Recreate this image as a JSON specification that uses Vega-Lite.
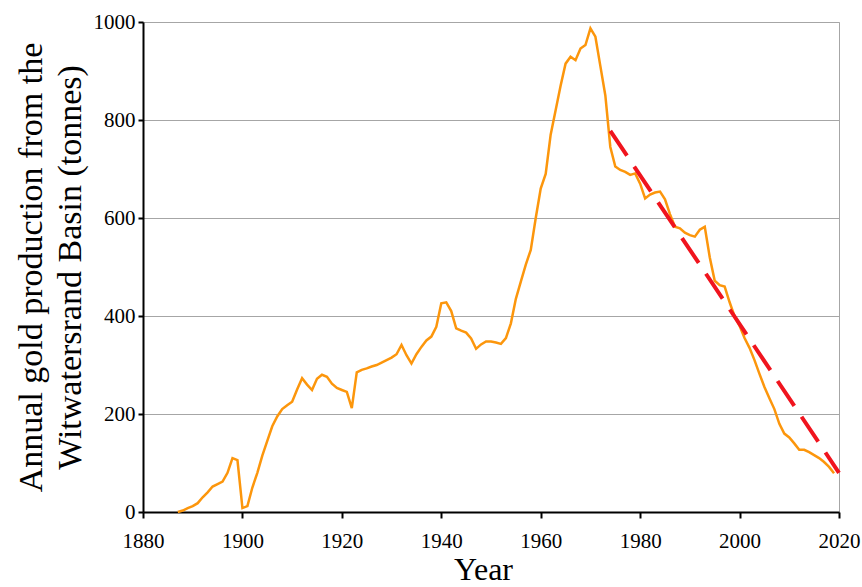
{
  "$schema": "https://vega.github.io/schema/vega-lite/v6.json",
  "width": 696,
  "height": 490,
  "autosize": {"type": "none"},
  "padding": {"left": 143, "top": 22, "right": 23, "bottom": 75},
  "background": "white",
  "config": {
    "view": {"stroke": "#a6a6a6", "strokeWidth": 1},
    "font": "Liberation Serif",
    "axis": {
      "labelFont": "Liberation Serif", "labelFontSize": 21, "labelColor": "black",
      "titleFont": "Liberation Serif", "titleFontWeight": "normal", "titleColor": "black",
      "tickColor": "black", "tickWidth": 2, "domainColor": "black", "domainWidth": 2
    }
  },
  "datasets": {
    "production": [
      {"year": 1887, "value": 0}, {"year": 1888, "value": 3}, {"year": 1889, "value": 8}, {"year": 1890, "value": 12},
      {"year": 1891, "value": 18}, {"year": 1892, "value": 30}, {"year": 1893, "value": 40}, {"year": 1894, "value": 52},
      {"year": 1895, "value": 57}, {"year": 1896, "value": 62}, {"year": 1897, "value": 80}, {"year": 1898, "value": 110},
      {"year": 1899, "value": 106}, {"year": 1900, "value": 8}, {"year": 1901, "value": 12}, {"year": 1902, "value": 50},
      {"year": 1903, "value": 80}, {"year": 1904, "value": 115}, {"year": 1905, "value": 145}, {"year": 1906, "value": 175},
      {"year": 1907, "value": 195}, {"year": 1908, "value": 210}, {"year": 1909, "value": 218}, {"year": 1910, "value": 225},
      {"year": 1911, "value": 250}, {"year": 1912, "value": 273}, {"year": 1913, "value": 260}, {"year": 1914, "value": 249},
      {"year": 1915, "value": 272}, {"year": 1916, "value": 280}, {"year": 1917, "value": 276}, {"year": 1918, "value": 262},
      {"year": 1919, "value": 253}, {"year": 1920, "value": 249}, {"year": 1921, "value": 245}, {"year": 1922, "value": 212},
      {"year": 1923, "value": 285}, {"year": 1924, "value": 290}, {"year": 1925, "value": 293}, {"year": 1926, "value": 297},
      {"year": 1927, "value": 300}, {"year": 1928, "value": 305}, {"year": 1929, "value": 310}, {"year": 1930, "value": 315},
      {"year": 1931, "value": 322}, {"year": 1932, "value": 341}, {"year": 1933, "value": 320}, {"year": 1934, "value": 303},
      {"year": 1935, "value": 322}, {"year": 1936, "value": 337}, {"year": 1937, "value": 350}, {"year": 1938, "value": 358},
      {"year": 1939, "value": 378}, {"year": 1940, "value": 426}, {"year": 1941, "value": 428}, {"year": 1942, "value": 410},
      {"year": 1943, "value": 375}, {"year": 1944, "value": 370}, {"year": 1945, "value": 366}, {"year": 1946, "value": 354},
      {"year": 1947, "value": 333}, {"year": 1948, "value": 342}, {"year": 1949, "value": 348}, {"year": 1950, "value": 348},
      {"year": 1951, "value": 346}, {"year": 1952, "value": 343}, {"year": 1953, "value": 355}, {"year": 1954, "value": 385},
      {"year": 1955, "value": 435}, {"year": 1956, "value": 470}, {"year": 1957, "value": 505}, {"year": 1958, "value": 535},
      {"year": 1959, "value": 600}, {"year": 1960, "value": 660}, {"year": 1961, "value": 690}, {"year": 1962, "value": 770},
      {"year": 1963, "value": 820}, {"year": 1964, "value": 870}, {"year": 1965, "value": 915}, {"year": 1966, "value": 929},
      {"year": 1967, "value": 922}, {"year": 1968, "value": 946}, {"year": 1969, "value": 953}, {"year": 1970, "value": 987},
      {"year": 1971, "value": 970}, {"year": 1972, "value": 910}, {"year": 1973, "value": 850}, {"year": 1974, "value": 745},
      {"year": 1975, "value": 705}, {"year": 1976, "value": 698}, {"year": 1977, "value": 694}, {"year": 1978, "value": 688},
      {"year": 1979, "value": 691}, {"year": 1980, "value": 670}, {"year": 1981, "value": 640}, {"year": 1982, "value": 648},
      {"year": 1983, "value": 652}, {"year": 1984, "value": 654}, {"year": 1985, "value": 638}, {"year": 1986, "value": 608},
      {"year": 1987, "value": 582}, {"year": 1988, "value": 579}, {"year": 1989, "value": 570}, {"year": 1990, "value": 565},
      {"year": 1991, "value": 562}, {"year": 1992, "value": 576}, {"year": 1993, "value": 582}, {"year": 1994, "value": 520},
      {"year": 1995, "value": 472}, {"year": 1996, "value": 463}, {"year": 1997, "value": 460}, {"year": 1998, "value": 428},
      {"year": 1999, "value": 399}, {"year": 2000, "value": 380}, {"year": 2001, "value": 355}, {"year": 2002, "value": 335},
      {"year": 2003, "value": 310}, {"year": 2004, "value": 282}, {"year": 2005, "value": 255}, {"year": 2006, "value": 232},
      {"year": 2007, "value": 210}, {"year": 2008, "value": 180}, {"year": 2009, "value": 160}, {"year": 2010, "value": 152},
      {"year": 2011, "value": 140}, {"year": 2012, "value": 127}, {"year": 2013, "value": 127}, {"year": 2014, "value": 122},
      {"year": 2015, "value": 116}, {"year": 2016, "value": 110}, {"year": 2017, "value": 102}, {"year": 2018, "value": 92},
      {"year": 2019, "value": 79}
    ],
    "trend": [
      {"year": 1974, "value": 778},
      {"year": 2020, "value": 80}
    ]
  },
  "layer": [
    {
      "data": {"name": "production"},
      "mark": {"type": "line", "color": "#fc960c", "strokeWidth": 2.5},
      "encoding": {
        "x": {
          "field": "year", "type": "quantitative",
          "scale": {"domain": [1880, 2020], "nice": false, "zero": false},
          "axis": {
            "values": [1880, 1900, 1920, 1940, 1960, 1980, 2000, 2020],
            "format": "d", "grid": false, "labelFlush": false,
            "tickSize": 6, "labelPadding": 12,
            "title": "Year", "titleFontSize": 32, "titlePadding": 3, "titleX": 340
          }
        },
        "y": {
          "field": "value", "type": "quantitative",
          "scale": {"domain": [0, 1000], "nice": false},
          "axis": {
            "values": [0, 200, 400, 600, 800, 1000], "format": "d",
            "grid": true, "gridColor": "#a6a6a6", "gridWidth": 1,
            "tickSize": 5, "labelPadding": 3,
            "title": ["Annual gold production from the", "Witwatersrand Basin (tonnes)"],
            "titleFontSize": 34, "titleLineHeight": 39, "titlePadding": 6
          }
        }
      }
    },
    {
      "data": {"name": "trend"},
      "mark": {"type": "line", "color": "#f0141e", "strokeWidth": 4, "strokeDash": [30, 13]},
      "encoding": {
        "x": {"field": "year", "type": "quantitative"},
        "y": {"field": "value", "type": "quantitative"}
      }
    }
  ]
}
